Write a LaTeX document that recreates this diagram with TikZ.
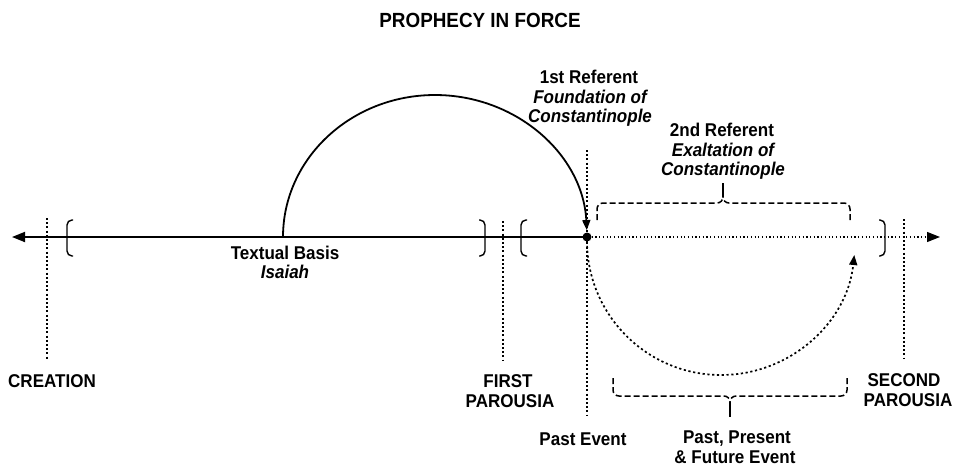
\documentclass[tikz,border=0pt]{standalone}
\usepackage{fontspec}
\setmainfont{Liberation Sans}[FakeStretch=0.92]
\usetikzlibrary{arrows.meta}
\begin{document}
\begin{tikzpicture}[x=1pt,y=-1pt,
  lbl/.style={font=\fontsize{18.5}{20}\selectfont\bfseries, inner sep=0pt, anchor=base},
  ilbl/.style={lbl, font=\fontsize{18.5}{20}\selectfont\bfseries\itshape},
  ttl/.style={lbl, font=\fontsize{20.5}{22}\selectfont\bfseries},
  vdot/.style={line width=2.1pt, dash pattern=on 2pt off 2.2pt},
  fdot/.style={line width=1.2pt, dash pattern=on 1.2pt off 2.5pt},
  arcdot/.style={line width=1.7pt, dash pattern=on 2.2pt off 2.6pt},
  bracketline/.style={line width=1.4pt, rounded corners=5pt},
  bracedash/.style={line width=1.5pt, dash pattern=on 6pt off 3pt, rounded corners=6pt},
  bigtip/.style={-{Triangle[length=13pt,width=10pt]}},
  smalltip/.style={-{Triangle[length=10pt,width=8pt]}},
]
\useasboundingbox (0,0) rectangle (960,467);

% title
\node[ttl] (title) at (480,27) {PROPHECY IN FORCE};

% main time line
\coordinate (L) at (12,237);
\coordinate (R) at (940,237);
\node[circle, fill, inner sep=0pt, minimum size=9pt] (dot) at (587,237) {};
\draw[line width=1.8pt, bigtip] (dot.center) -- (L);
\draw[fdot, bigtip] (dot.east) -- (R);

% vertical dotted markers
\coordinate (c1) at (47,218);  \coordinate (c2) at (47,359);
\coordinate (f1) at (503,221); \coordinate (f2) at (503,360);
\coordinate (p1) at (587,150); \coordinate (p2) at (587,416);
\coordinate (s1) at (904,219); \coordinate (s2) at (904,359);
\draw[vdot] (c1) -- (c2);
\draw[vdot] (f1) -- (f2);
\draw[vdot] (p1) -- (p2);
\draw[vdot] (s1) -- (s2);

% brackets
\draw[bracketline] (73,220) -- (67,220) -- (67,256) -- (73,256);
\draw[bracketline] (479,220) -- (485,220) -- (485,256) -- (479,256);
\draw[bracketline] (527,220) -- (521,220) -- (521,256) -- (527,256);
\draw[bracketline] (879,220) -- (885,220) -- (885,256) -- (879,256);

% solid arc: textual basis -> 1st referent
\coordinate (a0) at (283,237);
\draw[line width=1.8pt, smalltip] (a0) arc[start angle=180, end angle=357.2, x radius=152, y radius=142];

% dotted arc below
\coordinate (b0) at (587,241);
\draw[arcdot, smalltip] (b0) arc[start angle=180, end angle=6, x radius=134, y radius=134];

% upper dashed brace
\draw[bracedash] (597,220) -- (597,203) -- (723,203) -- (723,186);
\draw[bracedash] (850,220) -- (850,203) -- (723,203) -- (723,186);
\draw[line width=1.5pt] (723,183) -- (723,197);

% lower dashed brace
\draw[bracedash] (613,378) -- (613,396) -- (730,396) -- (730,414);
\draw[bracedash] (847,378) -- (847,396) -- (730,396) -- (730,414);
\draw[line width=1.5pt] (730,402) -- (730,417);

% labels
\node[lbl] (creation) at (52,387) {CREATION};
\node[lbl] (first1) at (508,387) {FIRST};
\node[lbl] (first2) at (510,407) {PAROUSIA};
\node[lbl] (second1) at (904,386) {SECOND};
\node[lbl] (second2) at (908,406) {PAROUSIA};
\node[lbl] (past) at (583,445) {Past Event};
\node[lbl] (ppf1) at (737,443) {Past, Present};
\node[lbl] (ppf2) at (735,463) {\& Future Event};
\node[lbl] (tb1) at (285,259) {Textual Basis};
\node[ilbl] (tb2) at (285,278) {Isaiah};
\node[lbl] (r11) at (589,83) {1st Referent};
\node[ilbl] (r12) at (590,103) {Foundation of};
\node[ilbl] (r13) at (590,122) {Constantinople};
\node[lbl] (r21) at (722,136) {2nd Referent};
\node[ilbl] (r22) at (723,156) {Exaltation of};
\node[ilbl] (r23) at (723,175) {Constantinople};
\end{tikzpicture}
\end{document}
